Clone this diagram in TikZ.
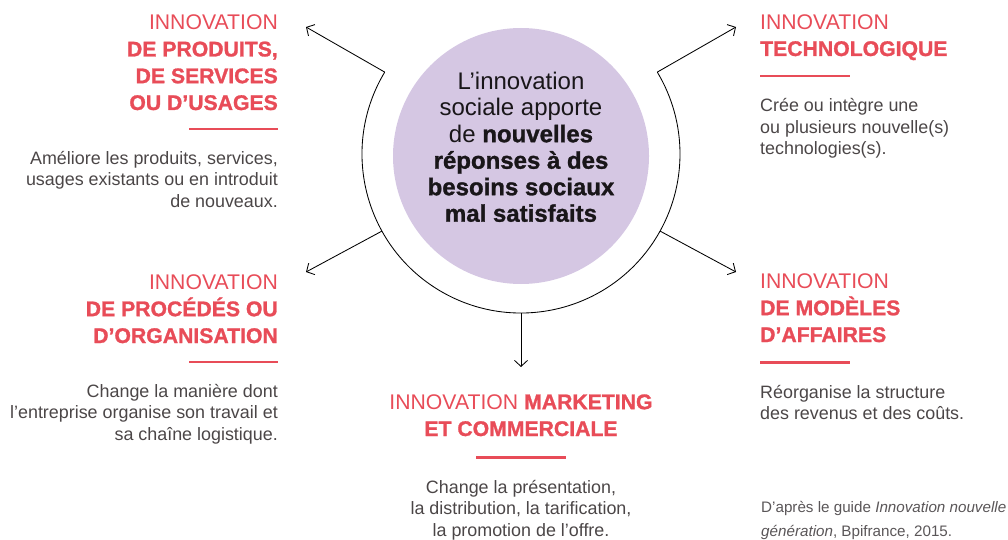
\documentclass[tikz,border=0pt]{standalone}
\usepackage{fontspec}
\setmainfont{Liberation Sans}[BoldFeatures={FakeBold=1.2}]
\usetikzlibrary{arrows.meta,calc}
\definecolor{accent}{RGB}{232,76,88}
\definecolor{lilac}{RGB}{213,199,227}
\definecolor{bodytxt}{RGB}{75,70,71}
\definecolor{coretxt}{RGB}{25,22,25}
\definecolor{foot}{RGB}{90,86,88}
\begin{document}
\begin{tikzpicture}[x=1pt,y=-1pt,
  title/.style={text=accent, inner sep=0pt, font=\fontsize{21.2}{26.8}\selectfont},
  desc/.style={text=bodytxt, inner sep=0pt, font=\fontsize{17.9}{21.6}\selectfont},
  rulebar/.style={accent, line width=2.4pt},
  conn/.style={line width=0.85pt, -{Straight Barb[length=6pt,width=13pt]}},
]
\useasboundingbox (0,0) rectangle (1008,540);

% centre
\node[circle, fill=lilac, minimum size=256pt, inner sep=0pt] (core) at (521,156) {};
\node[anchor=base, align=center, inner sep=0pt, text=coretxt,
      font=\fontsize{24}{26.5}\selectfont] (coretext) at (521,221.7)
  {L’innovation\\sociale apporte\\de \textbf{nouvelles}\\\textbf{réponses à des}\\\textbf{besoins sociaux}\\\textbf{mal satisfaits}};

\coordinate (oc) at (521,154);
\coordinate (aUL) at ($(oc)+(149:159pt)$);
\coordinate (aUR) at ($(oc)+(31:159pt)$);
\coordinate (aLL) at ($(oc)+(209:159pt)$);
\coordinate (aLR) at ($(oc)+(331:159pt)$);
\coordinate (aB)  at ($(oc)+(270:159pt)$);
\coordinate (tUL) at (306,27);
\coordinate (tUR) at (736,27);
\coordinate (tLL) at (306,272);
\coordinate (tLR) at (736,272);
\coordinate (tB)  at (521,367);

\draw[line width=0.85pt] (aUL) arc[start angle=149, end angle=391, radius=159pt];
\draw[conn] (aUL) -- (tUL);
\draw[conn] (aUR) -- (tUR);
\draw[conn] (aLL) -- (tLL);
\draw[conn] (aLR) -- (tLR);
\draw[conn] (aB) -- (tB);

% left top
\node[title, anchor=base east, align=right] (tProd) at (278,110)
  {INNOVATION\\\textbf{DE PRODUITS,}\\\textbf{DE SERVICES}\\\textbf{OU D’USAGES}};
\draw[rulebar] (189,129) -- (278,129);
\node[desc, anchor=base east, align=right] (dProd) at (278,207.2)
  {Améliore les produits, services,\\usages existants ou en introduit\\de nouveaux.};

% left middle
\node[title, anchor=base east, align=right] (tProc) at (278,343)
  {INNOVATION\\\textbf{DE PROCÉDÉS OU}\\\textbf{D’ORGANISATION}};
\draw[rulebar] (189,362) -- (278,362);
\node[desc, anchor=base east, align=right] (dProc) at (278,440.5)
  {Change la manière dont\\l’entreprise organise son travail et\\sa chaîne logistique.};

% right top
\node[title, anchor=base west, align=left] (tTech) at (760,56)
  {INNOVATION\\\textbf{TECHNOLOGIQUE}};
\draw[rulebar] (760,76) -- (850,76);
\node[desc, anchor=base west, align=left] (dTech) at (760,154.7)
  {Crée ou intègre une\\ou plusieurs nouvelle(s)\\technologies(s).};

% right middle
\node[title, anchor=base west, align=left] (tMod) at (760,342)
  {INNOVATION\\\textbf{DE MODÈLES}\\\textbf{D’AFFAIRES}};
\draw[rulebar] (760,362.5) -- (850,362.5);
\node[desc, anchor=base west, align=left] (dMod) at (760,419.6)
  {Réorganise la structure\\des revenus et des coûts.};

% bottom
\node[title, anchor=base, align=center] (tMkt) at (521,436)
  {INNOVATION \textbf{MARKETING}\\\textbf{ET COMMERCIALE}};
\draw[rulebar] (476,457.5) -- (566,457.5);
\node[desc, anchor=base, align=center] (dMkt) at (521,536.3)
  {Change la présentation,\\la distribution, la tarification,\\la promotion de l’offre.};

% footer
\node[anchor=base west, align=left, inner sep=0pt, text=foot,
      font=\fontsize{15.2}{24}\selectfont] (src) at (761,536)
  {D’après le guide \textit{Innovation nouvelle}\\\textit{génération}, Bpifrance, 2015.};
\end{tikzpicture}
\end{document}
